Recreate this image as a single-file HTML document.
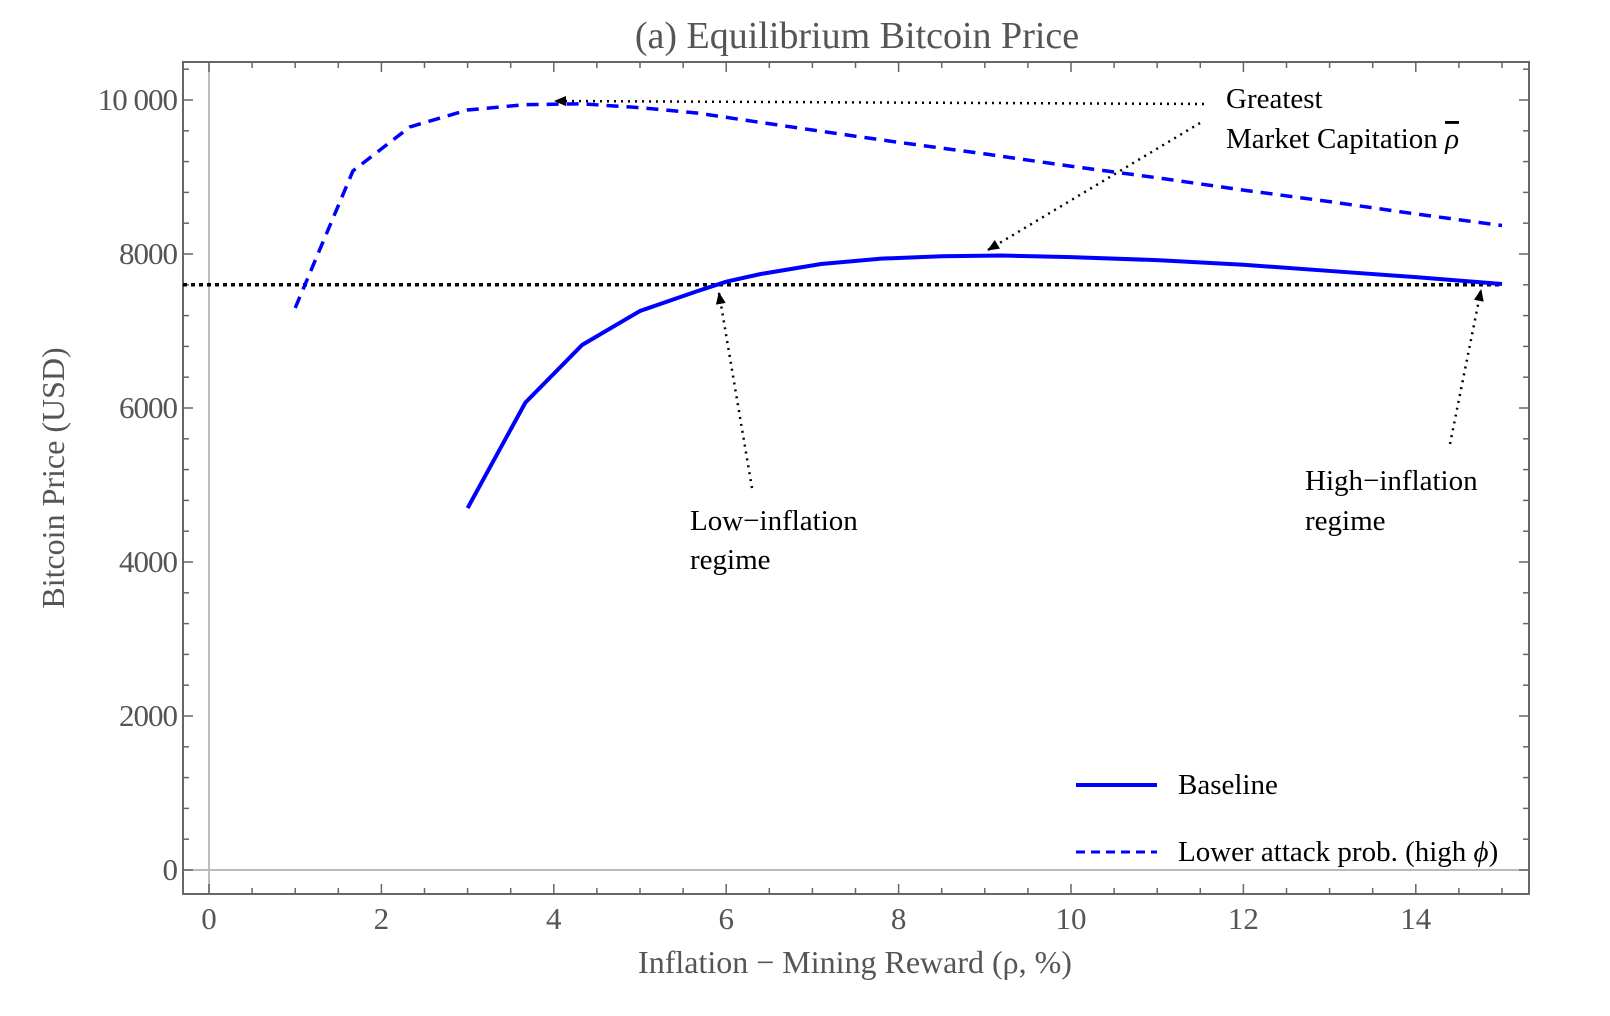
<!DOCTYPE html>
<html><head><meta charset="utf-8"><style>
body{margin:0;background:#fff;}
svg{display:block;font-family:"Liberation Serif",serif;}
</style></head><body>
<svg width="1610" height="1016">
<text x="857" y="48" font-size="38" text-anchor="middle" fill="#555">(a) Equilibrium Bitcoin Price</text>
<g id="plot"></g>
</svg>
<script>
const xTicks=[0,2,4,6,8,10,12,14];
const yTicks=[0,2000,4000,6000,8000,10000];
const yTickLabels=["0","2000","4000","6000","8000","10 000"];
const baseX=[3,3.67,4.33,5,5.67,6,6.4,7.1,7.8,8.5,9.2,10,11,12,13,14,15];
const baseY=[4700,6070,6820,7260,7520,7640,7740,7870,7940,7970,7980,7960,7920,7860,7780,7700,7610];
const highX=[1,1.67,2.33,3,3.67,4.33,5,5.67,6.33,7,8,9,10,11,12,13,14,15];
const highY=[7300,9080,9650,9870,9940,9950,9900,9830,9720,9610,9450,9300,9140,8990,8830,8680,8520,8370];
const refLevel=7600;
const NS="http://www.w3.org/2000/svg";
const g=document.getElementById('plot');
const X=v=>209+v*86.2, Y=v=>870-v*0.077;
const L=183,R=1529,T=62,B=894;
function mk(t,a,p){const e=document.createElementNS(NS,t);for(const k in a)e.setAttribute(k,a[k]);(p||g).appendChild(e);return e;}
let e;
e=mk('line',{x1:X(0),x2:X(0),y1:T,y2:B,stroke:'#bbb','stroke-width':2});


e=mk('line',{x1:L,x2:R,y1:Y(0),y2:Y(0),stroke:'#bbb','stroke-width':2});


e=mk('rect',{x:L,y:T,width:R-L,height:B-T,fill:'none',stroke:'#666','stroke-width':2});


for(let v=0;v<=15;v+=0.5){const major=v%2===0;const x=X(v);if(x>R-2)continue;
 mk('line',{x1:x,x2:x,y1:B,y2:B-(major?10:6),stroke:'#666','stroke-width':1.5});
 mk('line',{x1:x,x2:x,y1:T,y2:T+(major?10:6),stroke:'#666','stroke-width':1.5});}
for(let v=0;v<=10400;v+=400){const major=v%2000===0;const y=Y(v);if(y<T+2)continue;
 mk('line',{x1:L,x2:L+(major?10:6),y1:y,y2:y,stroke:'#666','stroke-width':1.5});
 mk('line',{x1:R,x2:R-(major?10:6),y1:y,y2:y,stroke:'#666','stroke-width':1.5});}
xTicks.forEach(v=>{e=mk('text',{x:X(v),y:B+35,'font-size':31,'text-anchor':'middle',fill:'#555'});e.textContent=v;

});
yTicks.forEach((v,i)=>{e=mk('text',{x:L-6,y:Y(v)+10,'font-size':31,'text-anchor':'end',fill:'#555','letter-spacing':'-1'});e.textContent=yTickLabels[i];

});
e=mk('text',{x:855,y:973,'font-size':32,'text-anchor':'middle',fill:'#555'});e.textContent='Inflation − Mining Reward (ρ, %)';


e=mk('text',{x:0,y:0,'font-size':32,'text-anchor':'middle',fill:'#555',transform:'translate(64,478) rotate(-90)'});e.textContent='Bitcoin Price (USD)';


e=mk('line',{x1:L,x2:X(15),y1:Y(refLevel),y2:Y(refLevel),stroke:'#000','stroke-width':3.5,'stroke-dasharray':'4 4'});


const pts=(xs,ys)=>xs.map((x,i)=>X(x)+','+Y(ys[i])).join(' ');
e=mk('polyline',{points:pts(highX,highY),fill:'none',stroke:'#0000ff','stroke-width':3.5,'stroke-dasharray':'12 8'});


e=mk('polyline',{points:pts(baseX,baseY),fill:'none',stroke:'#0000ff','stroke-width':4});


const defs=mk('defs',{});const m=mk('marker',{id:'ah',markerWidth:12,markerHeight:10,refX:11,refY:5,orient:'auto',markerUnits:'userSpaceOnUse'},defs);
mk('path',{d:'M0,0 L12,5 L0,10 Z',fill:'#000'},m);
function arrow(x1,y1,x2,y2,n){const a=mk('line',{x1,y1,x2,y2,stroke:'#000','stroke-width':2.5,'stroke-dasharray':'2 5','marker-end':'url(#ah)'});

}
arrow(1204,104,555,101,'arrow-greatest-cap-dashed');
arrow(1200,123,988,250,'arrow-greatest-cap-baseline');
arrow(752,488,719,293,'arrow-low-inflation');
arrow(1450,444,1481,290,'arrow-high-inflation');
function txt(x,y,s,n,anchor){const t=mk('text',{x,y,'font-size':29,fill:'#000','text-anchor':anchor||'start'});t.textContent=s;

return t;}
txt(1226,108,'Greatest','annotation-greatest');
const t2=txt(1226,148,'Market Capitation ','annotation-market-cap');
const ts=mk('tspan',{'font-style':'italic','text-decoration':'overline'},t2);ts.textContent='ρ';
txt(690,530,'Low−inflation','annotation-low-inflation');
txt(690,569,'regime','annotation-low-regime');
txt(1305,490,'High−inflation','annotation-high-inflation');
txt(1305,530,'regime','annotation-high-regime');
e=mk('line',{x1:1076,x2:1157,y1:785,y2:785,stroke:'#0000ff','stroke-width':4});


txt(1178,794,'Baseline','legend-baseline-label');
e=mk('line',{x1:1076,x2:1157,y1:852,y2:852,stroke:'#0000ff','stroke-width':3,'stroke-dasharray':'9 6'});


const t3=txt(1178,861,'Lower attack prob. (high ','legend-lower-attack-label');
const ts2=mk('tspan',{'font-style':'italic'},t3);ts2.textContent='ϕ';
const ts3=mk('tspan',{},t3);ts3.textContent=')';
</script>
</body></html>
